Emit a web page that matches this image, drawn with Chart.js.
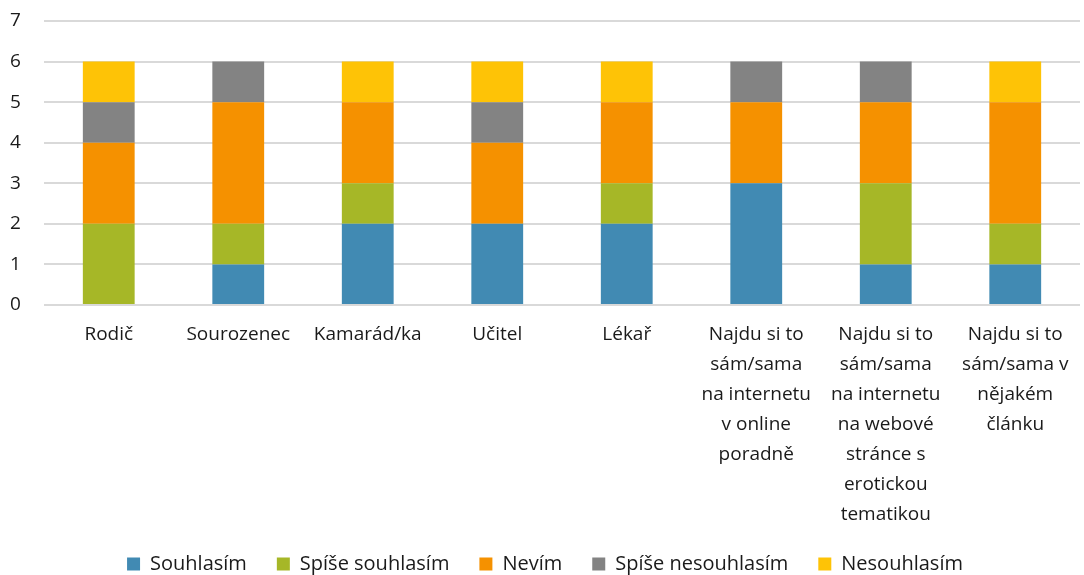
<!DOCTYPE html>
<html>
<head>
<meta charset="utf-8">
<script src="https://cdn.jsdelivr.net/npm/chart.js@4.4.0/dist/chart.umd.min.js"></script>
<style>
  body { margin: 0; background: #fff; overflow: hidden; }
  #wrap { width: 1084px; height: 575px; }
  canvas { display: block; }
</style>
</head>
<body>
<div id="wrap"><canvas id="myChart"></canvas></div>
<script>
// kategorie (popisky osy x, rozdelene do radku)
const kategorie = [
  'Rodič',
  'Sourozenec',
  'Kamarád/ka',
  'Učitel',
  'Lékař',
  ['Najdu si to', 'sám/sama', 'na internetu', 'v online', 'poradně'],
  ['Najdu si to', 'sám/sama', 'na internetu', 'na webové', 'stránce s', 'erotickou', 'tematikou'],
  ['Najdu si to', 'sám/sama v', 'nějakém', 'článku']
]

const souhlasim = [0, 1, 2, 2, 2, 3, 1, 1]
const spiseSouhlasim = [2, 1, 1, 0, 1, 0, 2, 1]
const nevim = [2, 3, 2, 2, 2, 2, 2, 3]
const spiseNesouhlasim = [1, 1, 0, 1, 0, 1, 1, 0]
const nesouhlasim = [1, 0, 1, 1, 1, 0, 0, 1]

const osaY = [0, 1, 2, 3, 4, 5, 6, 7]

const datasets = [ // poradi odspodu nahoru
  { label: 'Souhlasím', data: souhlasim, backgroundColor: '#418AB3' },
  { label: 'Spíše souhlasím', data: spiseSouhlasim, backgroundColor: '#A6B727' },
  { label: 'Nevím', data: nevim, backgroundColor: '#F59100' },
  { label: 'Spíše nesouhlasím', data: spiseNesouhlasim, backgroundColor: '#838383' },
  { label: 'Nesouhlasím', data: nesouhlasim, backgroundColor: '#FEC306' }
]

const rodina = '"Open Sans"'

// legenda: vetsi mezery mezi polozkami, ale nizsi pruh
const legendaVyska = {
  id: 'legendaVyska',
  beforeLayout(chart) {
    const lg = chart.legend
    if (lg && !lg._upraveno) {
      const puvodni = lg.fit
      lg.fit = function () { puvodni.call(this); this.height = 51 }
      lg._upraveno = true
    }
  }
}

const config = {
  type: 'bar',
  data: { labels: kategorie, datasets },
  options: {
    responsive: false,
    animation: false,
    layout: { padding: { left: 10, right: 4, top: 21, bottom: 0 } },
    datasets: { bar: { categoryPercentage: 1, barPercentage: 0.4 } },
    plugins: {
      tooltip: { enabled: false },
      legend: {
        position: 'bottom',
        labels: {
          boxWidth: 13, boxHeight: 13, padding: 30,
          color: '#1a1a1a', font: { family: rodina, size: 20 }
        }
      }
    },
    scales: {
      x: {
        stacked: true,
        afterFit: (axis) => { axis.height = 219 },
        grid: { display: false },
        border: { display: false },
        ticks: {
          color: '#1a1a1a', maxRotation: 0, autoSkip: false, padding: 7,
          font: { family: rodina, size: 19, lineHeight: 30 / 19 }
        }
      },
      y: {
        stacked: true,
        min: 0, max: 7,
        afterBuildTicks: (axis) => { axis.ticks = osaY.map(v => ({ value: v })) },
        afterFit: (axis) => { axis.width = 34 },
        grid: { color: '#d9d9d9', lineWidth: 2, drawTicks: false },
        border: { display: false },
        ticks: { color: '#1a1a1a', padding: 0, crossAlign: 'far', font: { family: rodina, size: 19 } }
      }
    }
  },
  plugins: [legendaVyska]
}

const myChart = document.getElementById('myChart')
myChart.width = 1084
myChart.height = 575
new Chart(myChart, config)
</script>
</body>
</html>
